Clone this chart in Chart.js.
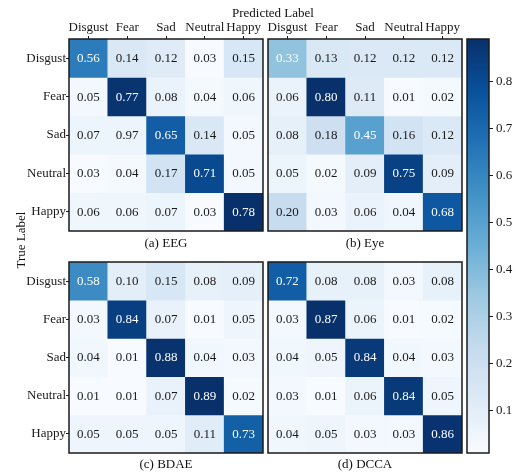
<!DOCTYPE html>
<html>
<head>
<meta charset="utf-8">
<script src="https://cdn.jsdelivr.net/npm/chart.js@4.4.1/dist/chart.umd.min.js"></script>
<style>
  html, body { margin: 0; padding: 0; background: #fff; }
  #wrap { position: relative; width: 523px; height: 472px; overflow: hidden; font-family: "Liberation Serif", serif; color: #111; }
  #wrap canvas { position: absolute; }
  .lbl { position: absolute; font-size: 13px; white-space: nowrap; transform: translate(-50%, -50%); line-height: 1; }
</style>
</head>
<body>
<div id="wrap">
  <canvas id="cmA" style="left:0;top:0;width:268px;height:240px" width="268" height="240"></canvas>
  <canvas id="cmB" style="left:262px;top:0;width:206px;height:240px" width="206" height="240"></canvas>
  <canvas id="cmC" style="left:0;top:240px;width:268px;height:232px" width="268" height="232"></canvas>
  <canvas id="cmD" style="left:262px;top:240px;width:206px;height:232px" width="206" height="232"></canvas>
  <canvas id="cbar" style="left:462px;top:0;width:61px;height:472px" width="61" height="472"></canvas>
  <div class="lbl" style="left:273px;top:12px">Predicted Label</div>
  <div class="lbl" style="left:20px;top:240px;transform:translate(-50%,-50%) rotate(-90deg)">True Label</div>
  <div class="lbl" style="left:166px;top:242px">(a) EEG</div>
  <div class="lbl" style="left:365px;top:242px">(b) Eye</div>
  <div class="lbl" style="left:166px;top:463px">(c) BDAE</div>
  <div class="lbl" style="left:365px;top:463px">(d) DCCA</div>
</div>
<script>
// classes (rows = true label, columns = predicted label)
const emotions = ['Disgust', 'Fear', 'Sad', 'Neutral', 'Happy'];

const eegValues = [
  [0.56, 0.14, 0.12, 0.03, 0.15],
  [0.05, 0.77, 0.08, 0.04, 0.06],
  [0.07, 0.07, 0.65, 0.14, 0.05],
  [0.03, 0.04, 0.17, 0.71, 0.05],
  [0.06, 0.06, 0.07, 0.03, 0.78]
];
const eyeValues = [
  [0.33, 0.13, 0.12, 0.12, 0.12],
  [0.06, 0.80, 0.11, 0.01, 0.02],
  [0.08, 0.18, 0.45, 0.16, 0.12],
  [0.05, 0.02, 0.09, 0.75, 0.09],
  [0.20, 0.03, 0.06, 0.04, 0.68]
];
const bdaeValues = [
  [0.58, 0.10, 0.15, 0.08, 0.09],
  [0.03, 0.84, 0.07, 0.01, 0.05],
  [0.04, 0.01, 0.88, 0.04, 0.03],
  [0.01, 0.01, 0.07, 0.89, 0.02],
  [0.05, 0.05, 0.05, 0.11, 0.73]
];
const dccaValues = [
  [0.72, 0.08, 0.08, 0.03, 0.08],
  [0.03, 0.87, 0.06, 0.01, 0.02],
  [0.04, 0.05, 0.84, 0.04, 0.03],
  [0.03, 0.01, 0.06, 0.84, 0.05],
  [0.04, 0.05, 0.03, 0.03, 0.86]
];

// the printed figure shows 0.97 in the EEG Sad/Fear cell although it is coloured like 0.07
const eegPrinted = { row: 2, col: 1, text: '0.97' };

const colorbarMin = 0.01;
const colorbarMax = 0.89;
const colorbarTicks = [0.1, 0.2, 0.3, 0.4, 0.5, 0.6, 0.7, 0.8];

const FONT = { family: '"Liberation Serif", serif', size: 13 };
const INK = '#1a1a1a';

// matplotlib "Blues"
const blues = [
  [247, 251, 255], [222, 235, 247], [198, 219, 239], [158, 202, 225], [107, 174, 214],
  [66, 146, 198], [33, 113, 181], [8, 81, 156], [8, 48, 107]
];
function bluesAt(t) {
  t = Math.max(0, Math.min(1, t));
  const p = t * (blues.length - 1);
  const i = Math.min(Math.floor(p), blues.length - 2);
  const f = p - i;
  const c = blues[i].map((v, k) => Math.round(v + (blues[i + 1][k] - v) * f));
  return `rgb(${c[0]},${c[1]},${c[2]})`;
}

const frame = {
  id: 'frame',
  afterDraw(chart) {
    const a = chart.chartArea, ctx = chart.ctx;
    ctx.save();
    ctx.strokeStyle = INK;
    ctx.lineWidth = 1.5;
    ctx.strokeRect(a.left, a.top, a.right - a.left, a.bottom - a.top);
    ctx.restore();
  }
};

const cellText = {
  id: 'cellText',
  afterDatasetsDraw(chart) {
    const ctx = chart.ctx;
    ctx.save();
    ctx.font = `${FONT.size}px ${FONT.family}`;
    ctx.textAlign = 'center';
    ctx.textBaseline = 'middle';
    chart.data.datasets.forEach((ds, i) => {
      chart.getDatasetMeta(i).data.forEach((bar, j) => {
        const v = ds.values[j];
        ctx.fillStyle = v > 0.3 ? '#ffffff' : INK;
        ctx.fillText(ds.texts[j], bar.x, (bar.y + bar.base) / 2 + 0.5);
      });
    });
    ctx.restore();
  }
};

function confusion(id, values, opts) {
  const flat = values.flat();
  const lo = Math.min(...flat), hi = Math.max(...flat);
  const datasets = values.map((row, r) => {
    const texts = row.map(v => v.toFixed(2));
    if (opts.printed && opts.printed.row === r) texts[opts.printed.col] = opts.printed.text;
    return {
      label: emotions[r],
      data: row.map(() => 1),
      values: row,
      texts: texts,
      backgroundColor: row.map(v => bluesAt((v - lo) / (hi - lo))),
      borderWidth: 0,
      barPercentage: 1,
      categoryPercentage: 1
    };
  });
  new Chart(document.getElementById(id), {
    type: 'bar',
    data: { labels: emotions, datasets: datasets },
    options: {
      responsive: false,
      animation: false,
      layout: { padding: opts.padding },
      plugins: { legend: { display: false }, tooltip: { enabled: false } },
      scales: {
        x: {
          position: 'top',
          stacked: true,
          display: opts.showX,
          grid: { display: true, drawOnChartArea: false, drawTicks: true, tickLength: 3, offset: false, color: INK },
          border: { display: false },
          ticks: { font: FONT, color: INK, padding: 1, maxRotation: 0, autoSkip: false },
          afterFit(s) { s.height = opts.showX ? 39 : 0; }
        },
        y: {
          type: 'linear',
          stacked: true,
          reverse: true,
          min: 0,
          max: emotions.length,
          display: opts.showY,
          grid: { display: true, drawOnChartArea: false, drawTicks: true, tickLength: 3, color: INK },
          border: { display: false },
          ticks: { font: FONT, color: INK, padding: 0, callback: (v, i) => emotions[i] },
          afterBuildTicks(s) { s.ticks = emotions.map((_, i) => ({ value: i + 0.5 })); },
          afterFit(s) { s.width = opts.showY ? 69 : 0; }
        }
      }
    },
    plugins: [cellText, frame]
  });
}

confusion('cmA', eegValues, { padding: { left: 0, top: 0, right: 5, bottom: 9 }, showX: true, showY: true, printed: eegPrinted });
confusion('cmB', eyeValues, { padding: { left: 6, top: 0, right: 6, bottom: 9 }, showX: true, showY: false });
confusion('cmC', bdaeValues, { padding: { left: 0, top: 22, right: 5, bottom: 19 }, showX: false, showY: true });
confusion('cmD', dccaValues, { padding: { left: 6, top: 22, right: 6, bottom: 19 }, showX: false, showY: false });

// colour bar
new Chart(document.getElementById('cbar'), {
  type: 'bar',
  data: {
    labels: [''],
    datasets: [{
      data: [[colorbarMin, colorbarMax]],
      barPercentage: 1,
      categoryPercentage: 1,
      borderWidth: 0,
      backgroundColor(ctx) {
        const a = ctx.chart.chartArea;
        if (!a) return bluesAt(0.5);
        const g = ctx.chart.ctx.createLinearGradient(0, a.bottom, 0, a.top);
        blues.forEach((_, k) => g.addColorStop(k / (blues.length - 1), bluesAt(k / (blues.length - 1))));
        return g;
      }
    }]
  },
  options: {
    responsive: false,
    animation: false,
    layout: { padding: { left: 5, top: 39, right: 0, bottom: 19 } },
    plugins: { legend: { display: false }, tooltip: { enabled: false } },
    scales: {
      x: { display: false },
      y: {
        position: 'right',
        min: colorbarMin,
        max: colorbarMax,
        grid: { display: true, drawOnChartArea: false, drawTicks: true, tickLength: 4, color: INK },
        border: { display: false },
        ticks: { font: FONT, color: INK, padding: 3, callback: v => v.toFixed(1) },
        afterBuildTicks(s) { s.ticks = colorbarTicks.map(v => ({ value: v })); },
        afterFit(s) { s.width = 34; }
      }
    }
  },
  plugins: [frame]
});
</script>
</body>
</html>
